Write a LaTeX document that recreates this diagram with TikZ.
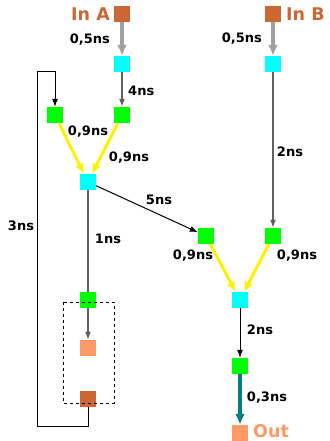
\documentclass[tikz,border=0pt]{standalone}
\usepackage{fontspec}
\setmainfont{DejaVu Sans}
\usetikzlibrary{arrows.meta,positioning}
\definecolor{inbrown}{HTML}{CC6633}
\definecolor{outsalmon}{HTML}{FF9966}
\definecolor{bufcyan}{HTML}{00FFFF}
\definecolor{reggreen}{HTML}{00FF00}
\definecolor{joinyellow}{HTML}{FFF000}
\definecolor{feedgray}{HTML}{A0A0A0}
\definecolor{wiregray}{HTML}{606060}
\definecolor{outteal}{HTML}{008080}

\begin{document}
\begin{tikzpicture}[x=1pt,y=-1pt,>={Latex[length=8pt,width=6pt]}]
    \tikzset{port/.style= {fill=inbrown, minimum size=16pt, inner sep=0pt} }
    \tikzset{sink/.style= {fill=outsalmon, minimum size=16pt, inner sep=0pt} }
    \tikzset{buf/.style= {fill=bufcyan, minimum size=16pt, inner sep=0pt} }
    \tikzset{reg/.style= {fill=reggreen, minimum size=16pt, inner sep=0pt} }
    \tikzset{lbl/.style= {inner sep=0pt, font={\fontsize{13}{15}\selectfont\bfseries}} }
    \tikzset{plbl/.style= {inner sep=0pt, font={\fontsize{17.5}{20}\selectfont\bfseries}} }
    \tikzset{wire/.style= {draw=black, line width=1pt} }
    \tikzset{gwire/.style= {draw=wiregray, line width=1.3pt} }
    \tikzset{fat/.style= {draw=feedgray, line width=3.5pt, >={Latex[length=11pt,width=10pt]}} }
    \tikzset{yel/.style= {draw=joinyellow, line width=3pt, >={Latex[length=10pt,width=9pt]}} }
    \tikzset{tl/.style= {draw=outteal, line width=3.5pt, >={Latex[length=11pt,width=10pt]}} }

    \useasboundingbox (0,0) rectangle (329,441);

    % squares
    \node[port] (ina) at (122,14) {};
    \node[port] (inb) at (273,14) {};
    \node[buf] (bufa) at (122,64) {};
    \node[buf] (bufb) at (273,64) {};
    \node[reg] (regl) at (55,115) {};
    \node[reg] (regr) at (122,115) {};
    \node[buf] (bufm) at (88,182) {};
    \node[reg] (regs) at (88,300) {};
    \node[sink] (sal) at (88,348) {};
    \node[port] (brw) at (88,399) {};
    \node[reg] (regp) at (206,236) {};
    \node[reg] (regq) at (273,236) {};
    \node[buf] (bufj) at (240,300) {};
    \node[reg] (rego) at (240,366) {};
    \node[sink] (out) at (240,433) {};

    \draw[dashed, line width=0.8pt] (63,302) rectangle (114,403);

    % port names
    \node[plbl, text=inbrown, anchor=east] (ina-name) at (110,14) {In A};
    \node[plbl, text=inbrown, anchor=west] (inb-name) at (286,14) {In B};
    \node[plbl, text=outsalmon, anchor=west] (out-name) at (253,431) {Out};

    % delays
    \node[lbl, anchor=east] (d-ina) at (110,40) {0,5ns};
    \node[lbl, anchor=east] (d-inb) at (262,39) {0,5ns};
    \node[lbl, anchor=west] (d-bufa) at (128,91) {4ns};
    \node[lbl] (d-regl) at (88,132) {0,9ns};
    \node[lbl] (d-regr) at (129,158) {0,9ns};
    \node[lbl] (d-cross) at (159,200) {5ns};
    \node[lbl] (d-loop) at (21,226) {3ns};
    \node[lbl] (d-down) at (108,239) {1ns};
    \node[lbl] (d-bufb) at (290,152) {2ns};
    \node[lbl] (d-regp) at (193,256) {0,9ns};
    \node[lbl] (d-regq) at (297,256) {0,9ns};
    \node[lbl] (d-bufj) at (260,330) {2ns};
    \node[lbl] (d-rego) at (267,398) {0,3ns};

    % connectors
    \coordinate (loopbot) at (37,426);
    \coordinate (looptop) at (37,72);

    \path[fat, ->] (ina) -- (bufa);
    \path[fat, ->] (inb) -- (bufb);
    \path[gwire, ->] (bufa) -- (regr);
    \path[wire, ->] (brw) |- (loopbot) -- (looptop) -| (regl);
    \path[yel, ->] (regl) -- (bufm);
    \path[yel, ->] (regr) -- (bufm);
    \path[gwire] (bufm) -- (regs);
    \path[gwire, ->] (regs) -- (sal);
    \path[wire, ->] (bufm) -- (regp);
    \path[gwire, ->] (bufb) -- (regq);
    \path[yel, ->] (regp) -- (bufj);
    \path[yel, ->] (regq) -- (bufj);
    \path[wire, ->] (bufj) -- (rego);
    \path[tl, ->] (rego) -- (out);
\end{tikzpicture}
\end{document}
